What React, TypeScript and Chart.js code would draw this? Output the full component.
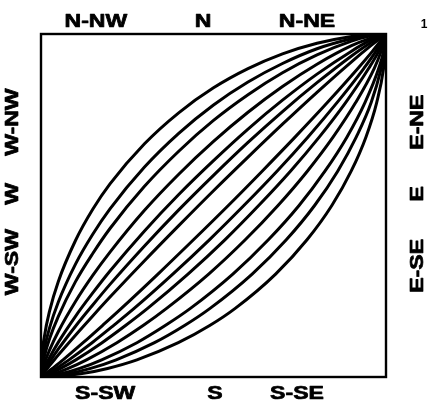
import React, { useEffect, useRef } from "react";
import { Chart, registerables } from "chart.js";

Chart.register(...registerables);

// Shared x positions (fraction of the box) at which the curves were read
const xGrid = [0, 0.002, 0.01, 0.025, 0.05, 0.1, 0.15, 0.2, 0.3, 0.4, 0.5, 0.6, 0.7, 0.8, 0.9, 0.95, 1];

// Curves bowing above the diagonal (innermost -> outermost)
const upper1 = [0, 0.003, 0.014, 0.033, 0.064, 0.122, 0.178, 0.233, 0.339, 0.442, 0.543, 0.641, 0.737, 0.83, 0.919, 0.961, 1];
const upper2 = [0, 0.005, 0.02, 0.044, 0.081, 0.148, 0.21, 0.27, 0.382, 0.488, 0.588, 0.684, 0.774, 0.858, 0.936, 0.971, 1];
const upper3 = [0, 0.007, 0.027, 0.057, 0.101, 0.177, 0.245, 0.309, 0.426, 0.533, 0.631, 0.723, 0.807, 0.883, 0.95, 0.979, 1];
const upper4 = [0, 0.012, 0.04, 0.079, 0.132, 0.22, 0.296, 0.364, 0.486, 0.592, 0.687, 0.772, 0.847, 0.912, 0.966, 0.986, 1];
const upper5 = [0, 0.021, 0.061, 0.112, 0.176, 0.278, 0.36, 0.433, 0.556, 0.659, 0.748, 0.823, 0.887, 0.939, 0.979, 0.993, 1];
const upper6 = [0, 0.031, 0.083, 0.144, 0.218, 0.329, 0.416, 0.49, 0.612, 0.711, 0.793, 0.86, 0.914, 0.957, 0.986, 0.996, 1];
const upper7 = [0, 0.05, 0.119, 0.193, 0.278, 0.398, 0.489, 0.563, 0.68, 0.771, 0.843, 0.899, 0.942, 0.973, 0.993, 0.998, 1];

// The lower family is the mirror image of the upper one across the diagonal
const upperCurves = [upper1, upper2, upper3, upper4, upper5, upper6, upper7];

// Compass labels and where they sit along each side (fraction of the box)
const topLabels = ["N-NW", "N", "N-NE"];
const topTicks = [0.159, 0.47, 0.771];
const bottomLabels = ["S-SW", "S", "S-SE"];
const bottomTicks = [0.186, 0.504, 0.742];
const leftLabels = ["W-NW", "W", "W-SW"];
const leftTicks = [0.743, 0.534, 0.335];
const rightLabels = ["E-NE", "E", "E-SE"];
const rightTicks = [0.743, 0.534, 0.324];
const cornerLabel = "1";

function drawLabel(ctx: CanvasRenderingContext2D, t: string, px: number, py: number, rotated: boolean) {
  ctx.save();
  ctx.translate(px, py);
  if (rotated) ctx.rotate(-Math.PI / 2);
  ctx.scale(1.28, 1);
  ctx.fillText(t, 0, 0);
  ctx.strokeText(t, 0, 0);
  ctx.restore();
}

const labelPlugin = {
  id: "compassLabels",
  afterDraw(chart: any) {
    const { ctx, chartArea: a, scales } = chart;
    const x = scales.x;
    const y = scales.y;
    ctx.save();
    ctx.strokeStyle = "#000";
    ctx.lineWidth = 2.4;
    ctx.strokeRect(a.left, a.top, a.right - a.left, a.bottom - a.top);

    ctx.fillStyle = "#000";
    ctx.lineWidth = 0.7;
    ctx.lineJoin = "round";
    ctx.font = 'bold 18px "Liberation Sans", Arial, sans-serif';
    ctx.textAlign = "center";
    ctx.textBaseline = "middle";

    topLabels.forEach((t, i) => drawLabel(ctx, t, x.getPixelForValue(topTicks[i]), a.top - 12, false));
    bottomLabels.forEach((t, i) => drawLabel(ctx, t, x.getPixelForValue(bottomTicks[i]), a.bottom + 17, false));
    leftLabels.forEach((t, i) => drawLabel(ctx, t, a.left - 28, y.getPixelForValue(leftTicks[i]), true));
    rightLabels.forEach((t, i) => drawLabel(ctx, t, a.right + 32, y.getPixelForValue(rightTicks[i]), true));

    ctx.font = 'bold 12px "Liberation Sans", Arial, sans-serif';
    ctx.fillText(cornerLabel, a.right + 38, a.top - 9);
    ctx.restore();
  },
};

export default function App() {
  const canvasRef = useRef<HTMLCanvasElement>(null);

  useEffect(() => {
    if (!canvasRef.current) return;
    const datasets: any[] = [];
    upperCurves.forEach((ys) => {
      datasets.push({
        data: xGrid.map((xv, i) => ({ x: xv, y: ys[i] })),
      });
      datasets.push({
        data: xGrid.map((xv, i) => ({ x: ys[i], y: xv })),
      });
    });
    datasets.forEach((d) => {
      d.borderColor = "#000";
      d.borderWidth = 3;
      d.pointRadius = 0;
      d.fill = false;
      d.cubicInterpolationMode = "monotone";
    });

    const chart = new Chart(canvasRef.current, {
      type: "line",
      data: { datasets },
      options: {
        animation: false,
        responsive: false,
        layout: { padding: { left: 41, top: 34, right: 43, bottom: 28 } },
        plugins: { legend: { display: false }, tooltip: { enabled: false } },
        scales: {
          x: { type: "linear", min: 0, max: 1, display: false },
          y: { type: "linear", min: 0, max: 1, display: false },
        },
      },
      plugins: [labelPlugin],
    });
    return () => chart.destroy();
  }, []);

  return (
    <div style={{ position: "fixed", left: 0, top: 0, width: 429, height: 405, background: "#fff" }}>
      <canvas ref={canvasRef} width={429} height={405} />
    </div>
  );
}
